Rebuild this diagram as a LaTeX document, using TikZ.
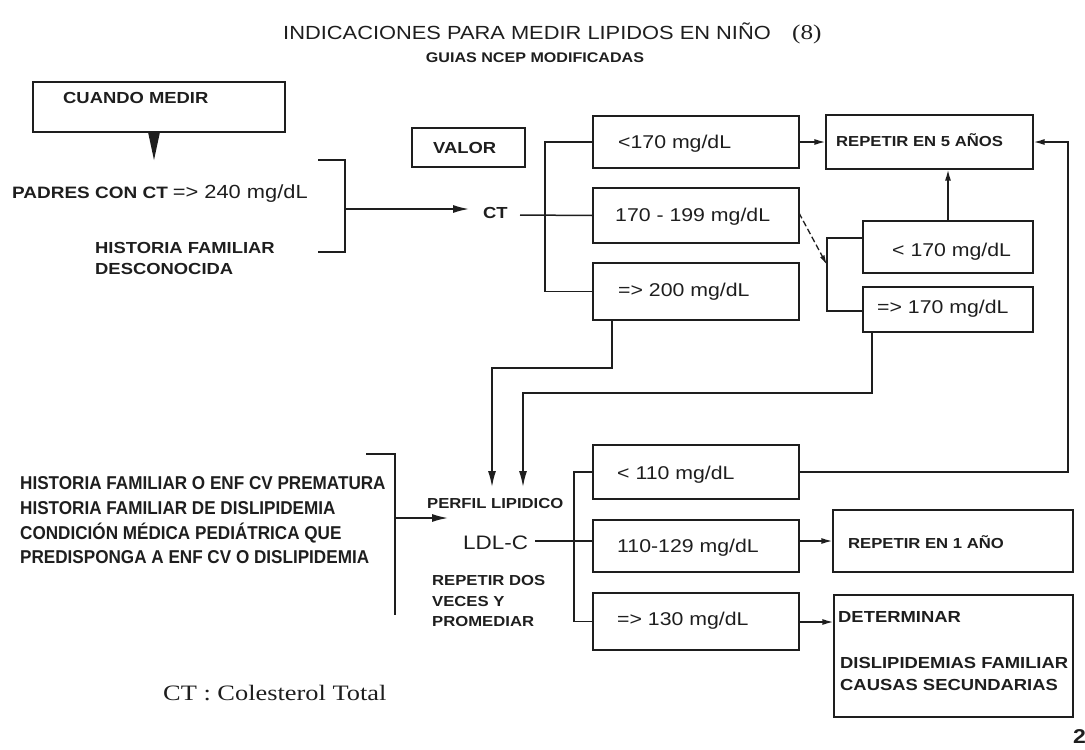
\documentclass[tikz,border=0pt]{standalone}
\usepackage{fontspec}
\setmainfont{Liberation Sans}
\newfontfamily\lsans{Liberation Sans}[FakeStretch=1.15]
\newfontfamily\lsansc{Liberation Sans}[FakeStretch=0.92]
\newfontfamily\lserif{Liberation Serif}[FakeStretch=1.2]
\usetikzlibrary{arrows.meta}
\definecolor{ink}{HTML}{1E1E1E}
\begin{document}
\begin{tikzpicture}[x=1pt,y=-1pt,
  box/.style={draw=ink, line width=1.2pt, inner sep=0pt, rectangle},
  conn/.style={draw=ink, line width=1.5pt},
  arr/.style={conn, -{Latex[length=11pt,width=6pt]}},
  arrbig/.style={conn, -{Latex[length=16pt,width=8pt]}},
  txt/.style={anchor=base west, inner sep=0pt, text=ink},
  val/.style={txt, font=\lsans\fontsize{18.5}{22}\selectfont},
  labl/.style={txt, font=\lsans\bfseries\fontsize{16}{19}\selectfont},
  labs/.style={txt, font=\lsans\bfseries\fontsize{14.5}{17}\selectfont},
  side/.style={txt, font=\lsansc\bfseries\fontsize{18.6}{22}\selectfont},
]
\useasboundingbox (0,0) rectangle (1085,750);

% ---- titles
\node[txt, font=\lsans\fontsize{19}{22}\selectfont] (title) at (283,39) {INDICACIONES PARA MEDIR LIPIDOS EN NIÑO};
\node[txt, font=\lserif\fontsize{21}{24}\selectfont] (tnum) at (792,39) {(8)};
\node[anchor=base, inner sep=0pt, text=ink, font=\lsans\bfseries\fontsize{14}{17}\selectfont] (sub) at (535,62) {GUIAS NCEP MODIFICADAS};

% ---- boxes
\node[box, minimum width=252, minimum height=50] (cuando) at (159,107) {};
\node[box, minimum width=113, minimum height=39] (valor) at (468.5,147.5) {};
\node[box, minimum width=206, minimum height=52] (v1) at (696,142) {};
\node[box, minimum width=206, minimum height=55] (v2) at (696,215.5) {};
\node[box, minimum width=206, minimum height=57] (v3) at (696,291.5) {};
\node[box, minimum width=207, minimum height=54] (rep5) at (929.5,142) {};
\node[box, minimum width=170, minimum height=52] (w1) at (948,247) {};
\node[box, minimum width=170, minimum height=45] (w2) at (948,309.5) {};
\node[box, minimum width=206, minimum height=54] (l1) at (696,472) {};
\node[box, minimum width=206, minimum height=52] (l2) at (696,546) {};
\node[box, minimum width=206, minimum height=57] (l3) at (696,621.5) {};
\node[box, minimum width=240, minimum height=62] (rep1) at (953,541) {};
\node[box, minimum width=239, minimum height=122] (det) at (953.5,656) {};

% ---- texts
\node[labl] (tcuando) at (63,103.7) {CUANDO MEDIR};
\node[txt] (tpadres) at (12,198) {{\lsans\bfseries\fontsize{16.5}{19}\selectfont PADRES CON CT}\hspace{5pt}{\lsans\fontsize{19}{22}\selectfont => 240 mg/dL}};
\node[labl] (thist1) at (95,253) {HISTORIA FAMILIAR};
\node[labl] (thist2) at (95,274) {DESCONOCIDA};
\node[labl] (tvalor) at (433,153.7) {VALOR};
\node[labl] (tct) at (483,218.5) {CT};
\node[val] (tv1) at (618,148.7) {<170 mg/dL};
\node[val] (tv2) at (615,221.7) {170 - 199 mg/dL};
\node[val] (tv3) at (618,296.7) {=> 200 mg/dL};
\node[labs] (trep5) at (836,146.4) {REPETIR EN 5 AÑOS};
\node[val] (tw1) at (892,256.7) {< 170 mg/dL};
\node[val] (tw2) at (877,313.7) {=> 170 mg/dL};
\node[val] (tl1) at (617,479.7) {< 110 mg/dL};
\node[val] (tl2) at (617,552.7) {110-129 mg/dL};
\node[val] (tl3) at (617,625.7) {=> 130 mg/dL};
\node[labs] (tperfil) at (427,508.3) {PERFIL LIPIDICO};
\node[txt, font=\lsans\fontsize{19.5}{22}\selectfont] (tldl) at (463,549) {LDL-C};
\node[labs] (trd1) at (432,585.3) {REPETIR DOS};
\node[labs] (trd2) at (432,606.3) {VECES Y};
\node[labs] (trd3) at (432,626.3) {PROMEDIAR};
\node[side] (ts1) at (20,489.5) {HISTORIA FAMILIAR O ENF CV PREMATURA};
\node[side] (ts2) at (20,514) {HISTORIA FAMILIAR DE DISLIPIDEMIA};
\node[side] (ts3) at (20,539) {CONDICIÓN MÉDICA PEDIÁTRICA QUE};
\node[side] (ts4) at (20,563.5) {PREDISPONGA A ENF CV O DISLIPIDEMIA};
\node[txt, font=\lserif\fontsize{22}{26}\selectfont] (tctdef) at (163,700) {CT : Colesterol Total};
\node[labs] (trep1) at (848,548) {REPETIR EN 1 AÑO};
\node[labl] (tdet1) at (838,622.8) {DETERMINAR};
\node[labl] (tdet2) at (840,668) {DISLIPIDEMIAS FAMILIAR};
\node[labl] (tdet3) at (840,690) {CAUSAS SECUNDARIAS};
\node[txt, font=\lsans\bfseries\fontsize{20}{22}\selectfont] (pnum) at (1073,743) {2};

% ---- connectors
\fill[ink] (148,132) -- (160,132) -- (154,160) -- cycle;

\coordinate (b1t) at (318,160);
\coordinate (b1b) at (318,252);
\coordinate (b1m) at (345,209);
\coordinate (ctin) at (469,209);
\draw[conn] (b1t) -- (b1t -| b1m) -- (b1b -| b1m) -- (b1b);
\draw[arrbig] (b1m) -- (ctin);

\coordinate (ctout) at (520,215);
\coordinate (ctv) at (545,215);
\draw[conn] (ctout) -- (v2.west);
\draw[conn] (v1.west) -- (v1.west -| ctv) -- (v3.west -| ctv) -- (v3.west);

\draw[arr] (v1.east) -- (rep5.west);
\draw[arr] (w1.north) -- (w1.north |- rep5.south);

\coordinate (b2x) at (827,238);
\coordinate (b2b) at (827,311);
\draw[conn] (w1.west |- b2x) -- (b2x) -- (b2b) -- (w2.west |- b2b);
\coordinate (dstart) at (799,213);
\coordinate (dend) at (827,265);
\draw[conn, dash pattern=on 6pt off 3pt, line width=1.3pt, -{Latex[length=10pt,width=5pt]}] (dstart) -- (dend);

\coordinate (p1) at (612,368);
\coordinate (ina) at (492,487);
\draw[arrbig] (v3.south -| p1) -- (p1) -- (p1 -| ina) -- (ina);
\coordinate (p2) at (872,393);
\coordinate (inb) at (523,487);
\draw[arrbig] (w2.south -| p2) -- (p2) -- (p2 -| inb) -- (inb);

\coordinate (b3t) at (366,454);
\coordinate (b3x) at (395,454);
\coordinate (b3b) at (395,615);
\coordinate (b3m) at (395,518);
\coordinate (ldlin) at (448,518);
\draw[conn, line width=1.2pt] (b3t) -- (b3x) -- (b3b);
\draw[arrbig] (b3m) -- (ldlin);

\coordinate (ldlout) at (535,541);
\coordinate (lv) at (574,541);
\draw[conn] (ldlout) -- (ldlout -| l2.west);
\draw[conn] (l1.west) -- (l1.west -| lv) -- (l3.west -| lv) -- (l3.west);

\coordinate (loopx) at (1068,472);
\draw[arr] (l1.east) -- (loopx) -- (loopx |- rep5.east) -- (rep5.east);
\draw[arr] (l2.east |- rep1.west) -- (rep1.west);
\coordinate (dety) at (799,622);
\draw[arr] (dety) -- (dety -| det.west);
\end{tikzpicture}
\end{document}
